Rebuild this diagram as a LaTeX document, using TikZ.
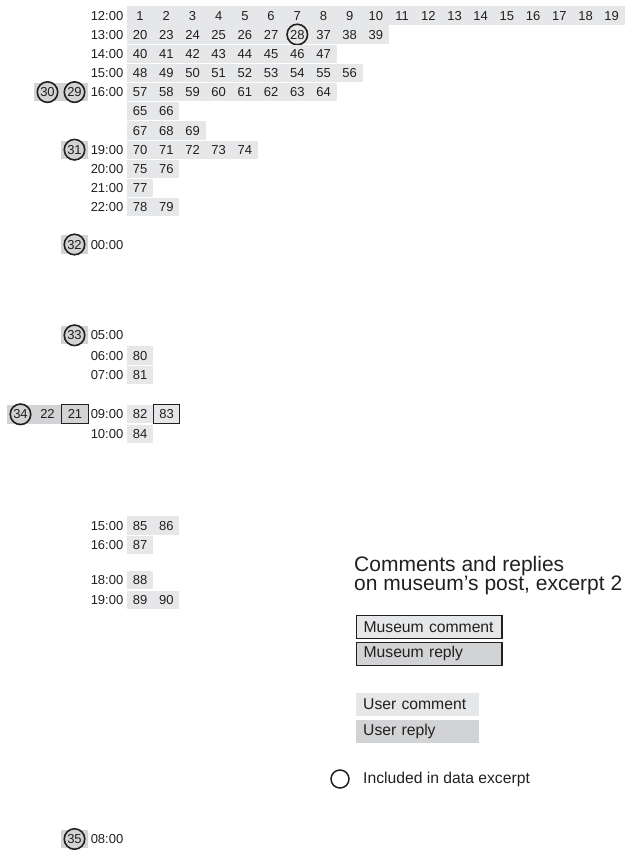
\documentclass[tikz,border=0pt]{standalone}
\usepackage{fontspec}
\setmainfont{Liberation Sans}
\newfontfamily\gridfont{Liberation Sans}
\definecolor{lightg}{RGB}{230,231,232}
\definecolor{darkg}{RGB}{209,211,212}
\definecolor{ink}{RGB}{35,31,32}
\newcommand\gf{\gridfont\fontsize{13}{14}\selectfont}
\newcommand\lf{\fontsize{15.7}{18}\selectfont}
\newcommand\ttf{\fontsize{21}{20}\selectfont}
\newcommand\cellrow[4]{\foreach \n [count=\k from #3] in {#4} {\node[#1] (n\n) at ({113.9+26.2*\k},#2) {\n};}}
\begin{document}
\begin{tikzpicture}[x=1pt,y=-1pt,
  cl/.style={fill=lightg, minimum width=26.3pt, minimum height=18.3pt, inner sep=0pt, font=\gf, text=ink, text height=9.3pt, text depth=0pt},
  cd/.style={cl, fill=darkg, minimum width=27.05pt},
  mc/.style={cl, draw=ink, line width=1.2pt, minimum width=26pt, minimum height=19pt},
  mr/.style={mc, fill=darkg},
  circ/.style={circle, draw=ink, line width=1.6pt, minimum size=20.5pt, inner sep=0pt, font=\gf, text=ink, text height=9.3pt, text depth=0pt},
  tl/.style={anchor=east, inner sep=0pt, font=\gf, text=ink, text height=9.3pt, text depth=0pt},
  lgbox/.style={anchor=west, inner xsep=7pt, inner ysep=0pt, minimum height=22.6pt, align=left, font=\lf, text=ink}
]
\useasboundingbox (0,0) rectangle (624,850);

% 12:00
\node[tl] (t12a) at (123.5,15.5) {12:00};
\cellrow{cl}{15.5}{1}{1,2,3,4,5,6,7,8,9,10,11,12,13,14,15,16,17,18,19}
% 13:00
\node[tl] (t13a) at (123.5,34.5) {13:00};
\cellrow{cl}{34.5}{1}{20,23,24,25,26,27}
\node[cl] (c28) at (297.3,34.5) {};
\node[circ] (n28) at (c28) {28};
\cellrow{cl}{34.5}{8}{37,38,39}
% 14:00
\node[tl] (t14a) at (123.5,53.7) {14:00};
\cellrow{cl}{53.7}{1}{40,41,42,43,44,45,46,47}
% 15:00
\node[tl] (t15a) at (123.5,72.9) {15:00};
\cellrow{cl}{72.9}{1}{48,49,50,51,52,53,54,55,56}
% 16:00
\node[tl] (t16a) at (123.5,92.1) {16:00};
\cellrow{cl}{92.1}{1}{57,58,59,60,61,62,63,64}
\node[cd] (c29) at (74.5,92.1) {};
\node[circ] (n29) at (c29) {29};
\node[cd] (c30) at (47.5,92.1) {};
\node[circ] (n30) at (c30) {30};
% untimed rows
\cellrow{cl}{111.3}{1}{65,66}
\cellrow{cl}{130.5}{1}{67,68,69}
% 19:00
\node[tl] (t19a) at (123.5,149.7) {19:00};
\cellrow{cl}{149.7}{1}{70,71,72,73,74}
\node[cd] (c31) at (74.5,149.7) {};
\node[circ] (n31) at (c31) {31};
% 20:00 - 22:00
\node[tl] (t20a) at (123.5,168.9) {20:00};
\cellrow{cl}{168.9}{1}{75,76}
\node[tl] (t21a) at (123.5,188.1) {21:00};
\cellrow{cl}{188.1}{1}{77}
\node[tl] (t22a) at (123.5,207.3) {22:00};
\cellrow{cl}{207.3}{1}{78,79}
% 00:00
\node[tl] (t00) at (123.5,244.5) {00:00};
\node[cd] (c32) at (74.5,244.5) {};
\node[circ] (n32) at (c32) {32};
% 05:00
\node[tl] (t05) at (123.5,335.3) {05:00};
\node[cd] (c33) at (74.5,335.3) {};
\node[circ] (n33) at (c33) {33};
% 06:00, 07:00
\node[tl] (t06) at (123.5,355.5) {06:00};
\cellrow{cl}{355.5}{1}{80}
\node[tl] (t07) at (123.5,375) {07:00};
\cellrow{cl}{375}{1}{81}
% 09:00
\node[tl] (t09) at (123.5,414.3) {09:00};
\node[cl] (n82) at (140.1,414.3) {82};
\node[mc] (n83) at (166.5,414.3) {83};
\node[mr, minimum width=26.6pt] (n21) at (75,414.3) {21};
\node[cd, minimum height=19.6pt] (n22) at (47.5,414.3) {22};
\node[cd, minimum height=19.6pt] (c34) at (20.5,414.3) {};
\node[circ] (n34) at (c34) {34};
% 10:00
\node[tl] (t10) at (123.5,434) {10:00};
\cellrow{cl}{434}{1}{84}
% afternoon
\node[tl] (t15b) at (123.5,525.5) {15:00};
\cellrow{cl}{525.5}{1}{85,86}
\node[tl] (t16b) at (123.5,545.2) {16:00};
\cellrow{cl}{545.2}{1}{87}
\node[tl] (t18b) at (123.5,580.2) {18:00};
\cellrow{cl}{580.2}{1}{88}
\node[tl] (t19b) at (123.5,600.2) {19:00};
\cellrow{cl}{600.2}{1}{89,90}
% 08:00
\node[tl] (t08) at (123.5,839) {08:00};
\node[cd] (c35) at (74.5,839) {};
\node[circ] (n35) at (c35) {35};

% legend
\node[anchor=base west, inner sep=0pt, font=\ttf, text=ink] (title1) at (354,571) {Comments and replies};
\node[anchor=base west, inner sep=0pt, font=\ttf, text=ink] (title2) at (354,590) {on museum’s post, excerpt 2};
\node[lgbox, fill=lightg, draw=ink, line width=1.2pt, text width=131.3pt] (lmc) at (356,627) {Museum comment};
\node[lgbox, fill=darkg, draw=ink, line width=1.2pt, text width=131.3pt] (lmr) at (356,653.8) {Museum reply};
\node[lgbox, fill=lightg, text width=109pt] (luc) at (356,704.3) {User comment};
\node[lgbox, fill=darkg, text width=109pt] (lur) at (356,731.3) {User reply};
\node[circle, draw=ink, line width=1.5pt, minimum size=18pt, inner sep=0pt] (lcirc) at (340,779) {};
\node[anchor=west, inner sep=0pt, font=\lf, text=ink] (lincl) at (363,779) {Included in data excerpt};
\end{tikzpicture}
\end{document}
